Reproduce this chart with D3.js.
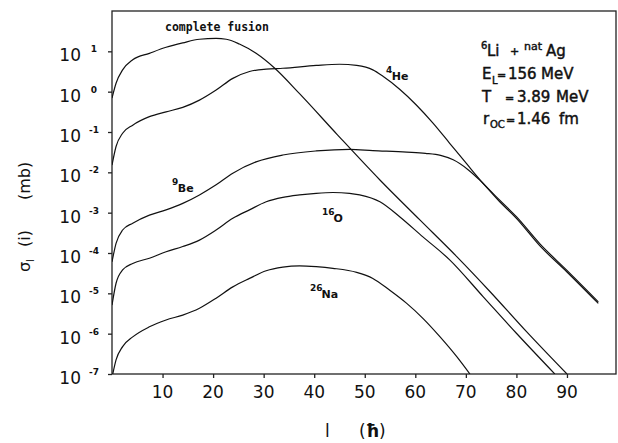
<!DOCTYPE html>
<html>
<head>
<meta charset="utf-8">
<script src="https://cdn.jsdelivr.net/npm/d3@7"></script>
<style>
  body { margin: 0; background: #fff; }
  svg { display: block; }
  text { fill: #111; }
</style>
</head>
<body>
<div class="main-container"></div>
<script>
// l (units of hbar) and log10 of sigma_l(i) in mb
const fusionL   = [0, 0.8, 2.1, 4.1, 7.4, 10.7, 14, 17.3, 20.6, 22.6, 25.2, 28.5, 32.2, 37.1, 44.6, 53, 60.9, 68.2, 74.8, 82, 90];
const fusionLog = [-0.16, 0.21, 0.54, 0.79, 0.95, 1.10, 1.21, 1.30, 1.32, 1.30, 1.18, 0.95, 0.58, -0.05, -1.07, -2.19, -3.18, -4.09, -4.96, -5.95, -7.0];

const heL   = [0, 0.8, 2.1, 4.1, 7.4, 10.7, 14, 17.3, 20.6, 23.9, 27.2, 30.5, 33.8, 40.4, 45, 48.4, 51.6, 53.6, 56.9, 60.2, 63.5, 66.8, 70.1, 73.4, 76.7, 80, 84.7, 90, 96.2];
const heLog = [-1.82, -1.36, -1.03, -0.83, -0.62, -0.50, -0.39, -0.21, 0.04, 0.33, 0.50, 0.56, 0.58, 0.65, 0.68, 0.65, 0.54, 0.38, 0.06, -0.33, -0.78, -1.28, -1.78, -2.27, -2.69, -3.10, -3.78, -4.43, -5.21];

const beL   = [0, 0.8, 2.1, 4.1, 7.4, 10.7, 14, 17.3, 20.6, 23.9, 28.5, 33.8, 40.4, 47, 51.6, 58.3, 62, 65, 67.5, 70.5, 72.8, 76.7, 80, 84.7, 90, 96.2];
const beLog = [-4.22, -3.76, -3.43, -3.26, -3.06, -2.93, -2.77, -2.56, -2.31, -2.02, -1.74, -1.57, -1.47, -1.43, -1.46, -1.50, -1.53, -1.58, -1.69, -1.94, -2.20, -2.73, -3.14, -3.83, -4.47, -5.25];

const oL   = [0, 0.8, 2.1, 4.1, 7.4, 10.7, 14, 17.3, 20.6, 23.9, 27.2, 30.5, 33.8, 37.1, 40.4, 43.7, 47, 49, 53, 56.9, 61.5, 66.8, 73.4, 80, 87.6];
const oLog = [-5.29, -4.75, -4.42, -4.26, -4.13, -3.97, -3.84, -3.68, -3.43, -3.14, -2.93, -2.73, -2.62, -2.56, -2.52, -2.50, -2.52, -2.56, -2.73, -3.10, -3.60, -4.17, -5.08, -5.99, -7.0];

const naL   = [0.15, 0.8, 2.1, 4.1, 7.4, 10.7, 14, 17.3, 20.6, 23.9, 27.2, 30.5, 33.8, 37.1, 40.4, 43.7, 48.4, 51.6, 54.9, 58.3, 61.5, 64.9, 68.2, 70.8];
const naLog = [-7.0, -6.65, -6.32, -6.08, -5.83, -5.66, -5.54, -5.37, -5.12, -4.84, -4.63, -4.44, -4.35, -4.32, -4.34, -4.38, -4.48, -4.63, -4.92, -5.25, -5.62, -6.08, -6.57, -7.0];

const xTicks = [10, 20, 30, 40, 50, 60, 70, 80, 90];
const yExponents = [-7, -6, -5, -4, -3, -2, -1, 0, 1];

const width = 618, height = 443;
const plot = {left: 112, right: 616, top: 11, bottom: 374};

const svg = d3.select(".main-container")
  .append("svg")
  .attr("width", width)
  .attr("height", height);

const x = d3.scaleLinear()
  .domain([0, 99.7])
  .range([plot.left, plot.right]);

const y = d3.scaleLog()
  .domain([1e-7, 1e2])
  .range([plot.bottom, plot.top]);

svg.append("clipPath")
  .attr("id", "plot-clip")
  .append("rect")
  .attr("x", plot.left)
  .attr("y", plot.top)
  .attr("width", plot.right - plot.left)
  .attr("height", plot.bottom - plot.top);

// frame
svg.append("rect")
  .attr("x", plot.left)
  .attr("y", plot.top)
  .attr("width", plot.right - plot.left)
  .attr("height", plot.bottom - plot.top)
  .attr("fill", "none")
  .attr("stroke", "#222")
  .attr("stroke-width", 1.3);

// ticks
svg.append("g")
  .attr("transform", `translate(${plot.left},0)`)
  .call(d3.axisLeft(y).tickValues(yExponents.map(e => 10 ** e)).tickSize(4).tickFormat(""));
svg.append("g")
  .attr("transform", `translate(0,${plot.bottom})`)
  .call(d3.axisBottom(x).tickValues(xTicks).tickSize(4).tickFormat(""));
svg.selectAll(".domain").remove();
svg.selectAll(".tick line").attr("stroke", "#222").attr("stroke-width", 1.3);

// y tick labels: 10 with raised exponent
const yLab = svg.append("g")
  .attr("font-family", "'DejaVu Sans', sans-serif");
yExponents.forEach(e => {
  const ty = y(10 ** e);
  yLab.append("text")
    .attr("x", 81)
    .attr("y", ty + 10)
    .attr("text-anchor", "end")
    .attr("font-size", 17)
    .text("10");
  yLab.append("text")
    .attr("x", 94)
    .attr("y", ty + 1)
    .attr("text-anchor", "middle")
    .attr("font-size", 9)
    .attr("font-weight", "bold")
    .text(e < 0 ? "-" + Math.abs(e) : e);
});

// x tick labels
svg.append("g")
  .attr("font-family", "'DejaVu Sans', sans-serif")
  .selectAll("text")
  .data(xTicks)
  .join("text")
  .attr("x", d => x(d))
  .attr("y", 398)
  .attr("text-anchor", "middle")
  .attr("font-size", 17)
  .text(d => d);

// curves
const series = [
  {l: fusionL, v: fusionLog},
  {l: heL, v: heLog},
  {l: beL, v: beLog},
  {l: oL, v: oLog},
  {l: naL, v: naLog}
];

const line = d3.line()
  .x(d => x(d[0]))
  .y(d => y(10 ** d[1]))
  .curve(d3.curveMonotoneX);

svg.append("g")
  .attr("clip-path", "url(#plot-clip)")
  .selectAll("path")
  .data(series)
  .join("path")
  .attr("fill", "none")
  .attr("stroke", "#111")
  .attr("stroke-width", 1.2)
  .attr("d", s => line(d3.zip(s.l, s.v)));

// curve labels
const lab = svg.append("g")
  .attr("font-family", "'DejaVu Sans', sans-serif")
  .attr("font-weight", "bold");

lab.append("text")
  .attr("x", 165).attr("y", 31)
  .attr("font-family", "'DejaVu Sans Mono', monospace")
  .attr("font-size", 11.5)
  .text("complete fusion");

function isotope(xp, yp, mass, name) {
  lab.append("text").attr("x", xp).attr("y", yp - 7).attr("font-size", 9).text(mass);
  lab.append("text").attr("x", xp + mass.length * 5.8).attr("y", yp).attr("font-size", 11).text(name);
}
isotope(386, 80, "4", "He");
isotope(172, 192, "9", "Be");
isotope(322, 222, "16", "O");
isotope(310, 298, "26", "Na");

// reaction parameters
const info = svg.append("g")
  .attr("font-family", "'DejaVu Sans', sans-serif")
  .attr("stroke", "#111")
  .attr("stroke-width", 0.45);
function put(xp, yp, size, str) {
  info.append("text").attr("x", xp).attr("y", yp).attr("font-size", size).text(str);
}
put(481, 49, 10, "6");
put(487, 56, 15, "Li");
put(510, 55, 11, "+");
put(524, 50, 11, "nat");
put(546, 56, 15, "Ag");

put(482, 79, 15, "E");
put(492, 84, 10, "L");
put(497, 79, 11, "=");
put(508, 79, 15, "156");
put(541, 79, 15, "MeV");

put(482, 102, 15, "T");
put(505, 102, 11, "=");
put(517, 102, 15, "3.89");
put(556, 102, 15, "MeV");

put(483, 124, 15, "r");
put(490, 128, 10, "OC");
put(506, 124, 11, "=");
put(517, 124, 15, "1.46");
put(559, 124, 15, "fm");

// axis titles
const xt = svg.append("g").attr("font-family", "'DejaVu Sans', sans-serif").attr("font-size", 17);
xt.append("text").attr("x", 325).attr("y", 437).text("l");
xt.append("text").attr("x", 359).attr("y", 437).html("(<tspan font-weight='bold'>ħ</tspan>)");

const yt = svg.append("g")
  .attr("transform", "translate(30,272) rotate(-90)")
  .attr("font-family", "'DejaVu Sans', sans-serif")
  .attr("font-size", 16);
yt.append("text").attr("x", 0).attr("y", 0).text("σ");
yt.append("text").attr("x", 10).attr("y", 4).attr("font-size", 10).text("l");
yt.append("text").attr("x", 25).attr("y", 0).text("(i)");
yt.append("text").attr("x", 72).attr("y", 0).text("(mb)");
</script>
</body>
</html>
